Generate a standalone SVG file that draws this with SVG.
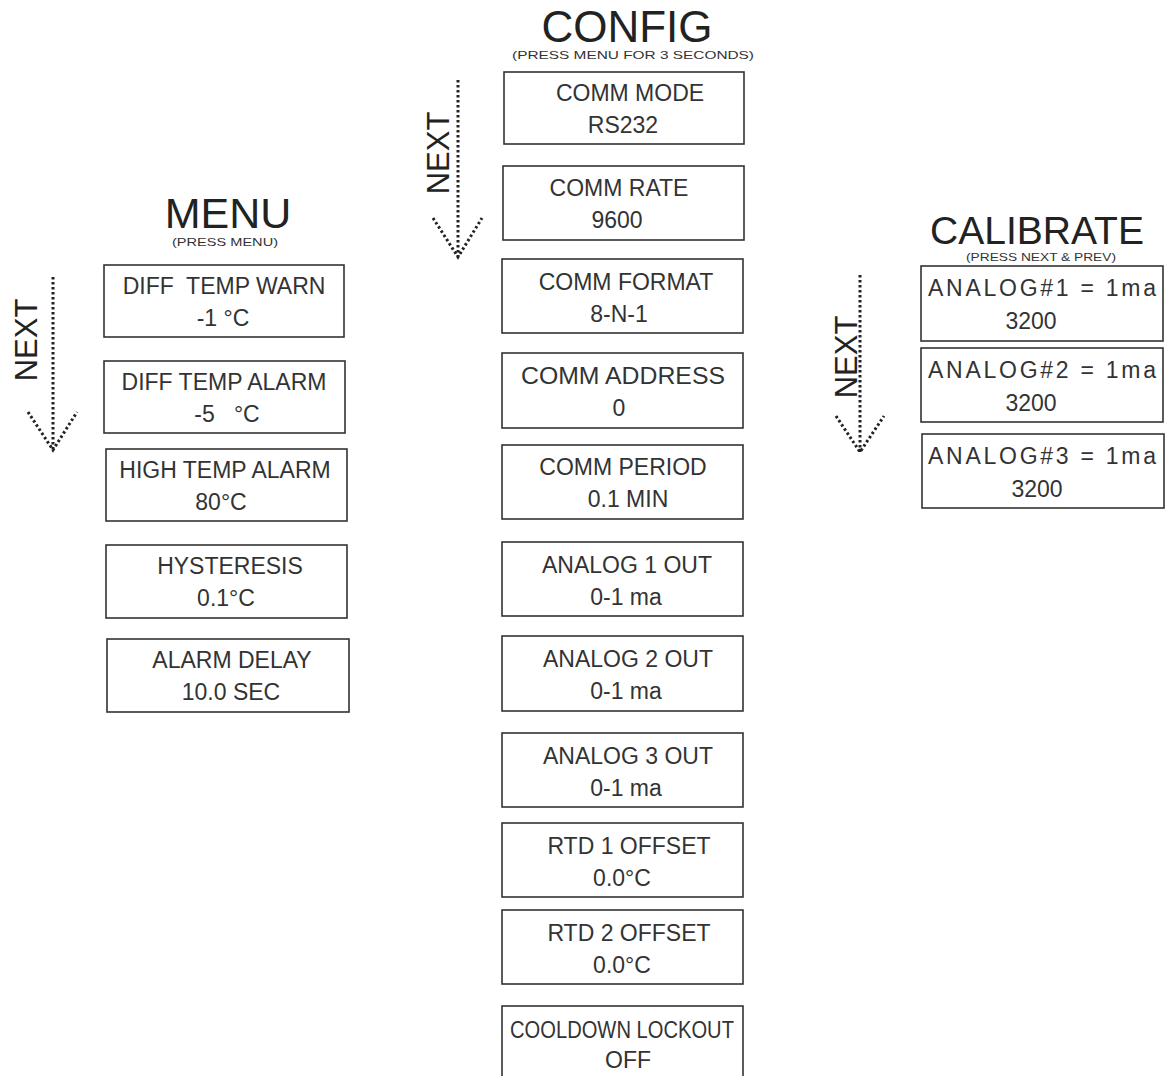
<svg xmlns="http://www.w3.org/2000/svg" width="1173" height="1076" viewBox="0 0 1173 1076">
<style>
.box{fill:#fff;stroke:#333;stroke-width:1.6}
.t{font-family:"Liberation Sans",Arial,sans-serif;font-size:23px;fill:#333;text-anchor:middle}
.title{font-family:"Liberation Sans",Arial,sans-serif;fill:#222;text-anchor:middle}
.sub{font-family:"Liberation Sans",Arial,sans-serif;font-size:11px;fill:#333;text-anchor:middle}
.dot{fill:none;stroke:#222;stroke-width:3;stroke-dasharray:2.5 2.5}
.next{font-family:"Liberation Sans",Arial,sans-serif;font-size:31px;fill:#222;text-anchor:middle}
</style>
<rect width="1173" height="1076" fill="#fff"/>
<g id="titles">
<text class="title" x="228" y="228" font-size="43">MENU</text>
<text class="sub" x="225" y="246" textLength="106" lengthAdjust="spacingAndGlyphs">(PRESS MENU)</text>
<text class="title" x="627" y="42" font-size="44">CONFIG</text>
<text class="sub" x="633" y="59" textLength="242" lengthAdjust="spacingAndGlyphs">(PRESS MENU FOR 3 SECONDS)</text>
<text class="title" x="1037" y="244" font-size="39" textLength="214" lengthAdjust="spacingAndGlyphs">CALIBRATE</text>
<text class="sub" x="1041" y="261" font-size="10" textLength="150" lengthAdjust="spacingAndGlyphs">(PRESS NEXT &amp; PREV)</text>
</g>
<g id="connectors">
<path class="dot" d="M53,277 V450 M28,412 L53,450 L77,412"/>
<text class="next" transform="translate(37,340) rotate(-90)">NEXT</text>
<path class="dot" d="M458,80 V257 M433,218 L458,257 L482,218"/>
<text class="next" transform="translate(449,153) rotate(-90)">NEXT</text>
<path class="dot" d="M860,275 V452 M836,416 L860,452 L884,416"/>
<text class="next" transform="translate(857,357) rotate(-90)">NEXT</text>
</g>
<g id="menu1"><rect class="box" x="104" y="265" width="240" height="72"/><text class="t" x="224" y="294" xml:space="preserve">DIFF  TEMP WARN</text><text class="t" x="223" y="326">-1 °C</text></g>
<g id="menu2"><rect class="box" x="104" y="361" width="241" height="72"/><text class="t" x="224" y="390">DIFF TEMP ALARM</text><text class="t" x="227" y="422" xml:space="preserve">-5   °C</text></g>
<g id="menu3"><rect class="box" x="106" y="449" width="241" height="72"/><text class="t" x="225" y="478">HIGH TEMP ALARM</text><text class="t" x="221" y="510">80°C</text></g>
<g id="menu4"><rect class="box" x="106" y="545" width="241" height="73"/><text class="t" x="230" y="574">HYSTERESIS</text><text class="t" x="226" y="606">0.1°C</text></g>
<g id="menu5"><rect class="box" x="107" y="639" width="242" height="73"/><text class="t" x="232" y="668">ALARM DELAY</text><text class="t" x="231" y="700">10.0 SEC</text></g>
<g id="cfg1"><rect class="box" x="504" y="72" width="240" height="72"/><text class="t" x="630" y="101">COMM MODE</text><text class="t" x="623" y="133">RS232</text></g>
<g id="cfg2"><rect class="box" x="503" y="166" width="241" height="74"/><text class="t" x="619" y="196">COMM RATE</text><text class="t" x="617" y="228">9600</text></g>
<g id="cfg3"><rect class="box" x="502" y="259" width="241" height="74"/><text class="t" x="626" y="290">COMM FORMAT</text><text class="t" x="619" y="322">8-N-1</text></g>
<g id="cfg4"><rect class="box" x="502" y="353" width="241" height="75"/><text class="t" x="623" y="384" textLength="204" lengthAdjust="spacingAndGlyphs">COMM ADDRESS</text><text class="t" x="619" y="416">0</text></g>
<g id="cfg5"><rect class="box" x="502" y="445" width="241" height="74"/><text class="t" x="623" y="475">COMM PERIOD</text><text class="t" x="628" y="507">0.1 MIN</text></g>
<g id="cfg6"><rect class="box" x="502" y="542" width="241" height="74"/><text class="t" x="627" y="573">ANALOG 1 OUT</text><text class="t" x="626" y="605">0-1 ma</text></g>
<g id="cfg7"><rect class="box" x="502" y="636" width="241" height="75"/><text class="t" x="628" y="667">ANALOG 2 OUT</text><text class="t" x="626" y="699">0-1 ma</text></g>
<g id="cfg8"><rect class="box" x="502" y="733" width="241" height="74"/><text class="t" x="628" y="764">ANALOG 3 OUT</text><text class="t" x="626" y="796">0-1 ma</text></g>
<g id="cfg9"><rect class="box" x="502" y="823" width="241" height="74"/><text class="t" x="629" y="854">RTD 1 OFFSET</text><text class="t" x="622" y="886">0.0°C</text></g>
<g id="cfg10"><rect class="box" x="502" y="910" width="241" height="74"/><text class="t" x="629" y="941">RTD 2 OFFSET</text><text class="t" x="622" y="973">0.0°C</text></g>
<g id="cfg11"><rect class="box" x="502" y="1006" width="241" height="80"/><text class="t" x="622" y="1038" font-size="18" textLength="224" lengthAdjust="spacingAndGlyphs">COOLDOWN LOCKOUT</text><text class="t" x="628" y="1068">OFF</text></g>
<g id="cal1"><rect class="box" x="921" y="266" width="242" height="75"/><text class="t" x="1042" y="296" textLength="228" lengthAdjust="spacing">ANALOG#1 = 1ma</text><text class="t" x="1031" y="329">3200</text></g>
<g id="cal2"><rect class="box" x="921" y="348" width="242" height="74"/><text class="t" x="1042" y="378" textLength="228" lengthAdjust="spacing">ANALOG#2 = 1ma</text><text class="t" x="1031" y="411">3200</text></g>
<g id="cal3"><rect class="box" x="922" y="434" width="242" height="74"/><text class="t" x="1042" y="464" textLength="228" lengthAdjust="spacing">ANALOG#3 = 1ma</text><text class="t" x="1037" y="497">3200</text></g>
</svg>
